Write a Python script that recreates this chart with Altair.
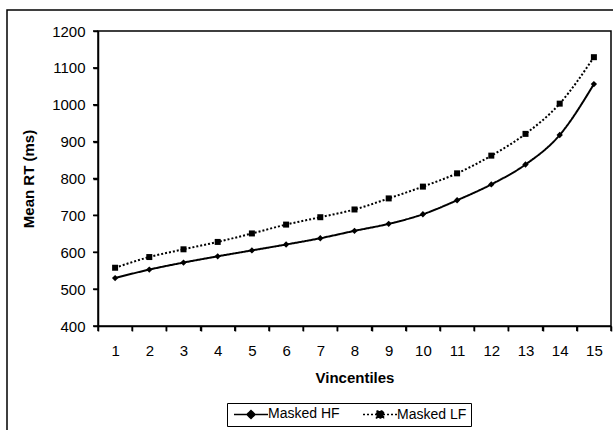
import altair as alt
import pandas as pd

vincentiles = list(range(1, 16))
masked_hf = [530, 553, 572, 589, 605, 621, 638, 658, 677, 703, 741, 784, 838, 918, 1056]
masked_lf = [558, 587, 608, 628, 651, 675, 695, 716, 746, 778, 814, 862, 921, 1003, 1129]
series_names = ["Masked HF", "Masked LF"]
y_ticks = list(range(400, 1201, 100))
x_tick_positions = [v / 2 for v in range(1, 32)]
x_tick_marks = [v + 0.5 for v in range(0, 16)]

df = pd.DataFrame({
    "Vincentile": vincentiles * 2,
    "RT": masked_hf + masked_lf,
    "Series": [series_names[0]] * 15 + [series_names[1]] * 15,
})

FONT = "Liberation Sans"

x_scale = alt.Scale(domain=[0.5, 15.5], nice=False, zero=False)
y_scale = alt.Scale(domain=[400, 1200], nice=False, zero=False)

x_axis = alt.Axis(
    title="Vincentiles",
    values=x_tick_positions,
    labelExpr="datum.value % 1 === 0 ? format(datum.value, 'd') : ''",
    ticks=True,
    tickColor=alt.expr("datum.value % 1 === 0 ? 'rgba(0,0,0,0)' : 'black'"),
    tickSize=5,
    tickWidth=1.5,
    labelPadding=12,
    titlePadding=12,
    domainColor="black",
    domainWidth=1.5,
    grid=False,
    labelFlush=False,
    labelOverlap=False,
)
y_axis = alt.Axis(
    title="Mean RT (ms)",
    values=y_ticks,
    format="d",
    ticks=True,
    tickColor="black",
    tickSize=5,
    tickWidth=1.5,
    labelPadding=8,
    titlePadding=15,
    domainColor="black",
    domainWidth=1.5,
    grid=False,
)

x_enc = alt.X("Vincentile:Q", scale=x_scale, axis=x_axis)
y_enc = alt.Y("RT:Q", scale=y_scale, axis=y_axis)

dash_scale = alt.Scale(domain=series_names, range=[[1, 0], [2, 2]])

hf_path = "M-2.83,0H2.83M0,-0.67L0.67,0L0,0.67L-0.67,0Z"
lf_path = "M-2.83,0H2.83M-0.58,-0.58H0.58V0.58H-0.58Z"

lines = alt.Chart(df).mark_line(interpolate="monotone", color="black", strokeWidth=2).encode(
    x=x_enc,
    y=y_enc,
    strokeDash=alt.StrokeDash(
        "Series:N",
        scale=dash_scale,
        legend=alt.Legend(
            title=None,
            orient="none",
            legendX=129,
            legendY=372,
            direction="horizontal",
            strokeColor="black",
            padding=4,
            labelFont=FONT,
            labelFontSize=14,
            labelColor="black",
            symbolSize=144,
            symbolOffset=13,
            labelOffset=10,
            columnPadding=20,
            symbolStrokeWidth=1.5,
            symbolStrokeColor="black",
            symbolFillColor="black",
            symbolType=alt.expr(f"datum.value === 'Masked HF' ? '{hf_path}' : '{lf_path}'"),
        ),
    ),
)

hf_points = alt.Chart(df).transform_filter(
    alt.datum.Series == series_names[0]
).mark_point(filled=True, color="black", opacity=1, size=40, shape="diamond").encode(
    x=x_enc, y=y_enc
)
lf_points = alt.Chart(df).transform_filter(
    alt.datum.Series == series_names[1]
).mark_point(filled=True, color="black", opacity=1, size=36, shape="square").encode(
    x=x_enc, y=y_enc
)

# tick marks drawn as rules (outward, 5 px); same fields and axes as the data layers
x_ticks_layer = alt.Chart(pd.DataFrame({"Vincentile": x_tick_marks})).mark_rule(
    color="black", strokeWidth=1.5
).encode(
    x=x_enc,
    y=alt.value(295),
    y2=alt.value(300),
)
y_ticks_layer = alt.Chart(pd.DataFrame({"RT": y_ticks})).mark_rule(
    color="black", strokeWidth=1.5
).encode(
    y=y_enc,
    x=alt.value(-5),
    x2=alt.value(0),
)

frame = alt.Chart(pd.DataFrame({"f": [0]})).mark_rect(
    fillOpacity=0, stroke="black", strokeWidth=1.5
).encode(
    x=alt.value(-91), x2=alt.value(800), y=alt.value(-21), y2=alt.value(800)
)

chart = alt.layer(
    frame, lines, hf_points, lf_points, x_ticks_layer, y_ticks_layer
).properties(
    width=513,
    height=295,
    padding={"left": 98, "top": 31, "right": 2, "bottom": 104},
    autosize=alt.AutoSizeParams(type="none"),
    background="white",
).configure_view(
    stroke="black", strokeWidth=1.5
).configure_axis(
    labelFont=FONT,
    labelFontSize=15,
    labelColor="black",
    titleFont=FONT,
    titleFontSize=15,
    titleFontWeight="bold",
    titleColor="black",
)

chart.save("out.html", embed_options={"renderer": "svg", "actions": False})
